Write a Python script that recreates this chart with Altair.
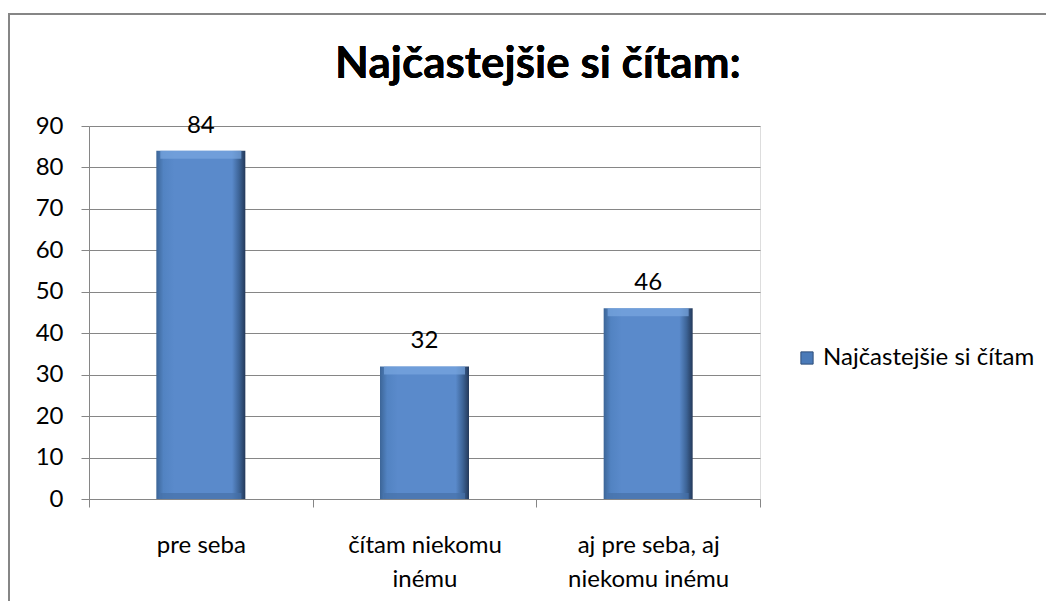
import altair as alt
import pandas as pd

categories = ["pre seba", "čítam niekomu\ninému", "aj pre seba, aj\nniekomu inému"]
values = [84, 32, 46]
series_name = "Najčastejšie si čítam"
title_text = "Najčastejšie si čítam:"
y_ticks = [0, 10, 20, 30, 40, 50, 60, 70, 80, 90]

df = pd.DataFrame({"kategoria": categories, "hodnota": values, "seria": [series_name] * len(values)})

FONT = "Lato"
GREY = "#868686"
W, H = 671, 373
FS = 24

x_enc = alt.X(
    "kategoria:N",
    sort=None,
    title=None,
    scale=alt.Scale(paddingInner=0, paddingOuter=0),
    axis=alt.Axis(
        labelExpr="split(datum.label, '\\n')",
        labelAngle=0,
        labelFontSize=FS,
        labelLineHeight=34,
        labelPadding=26,
        labelBaseline="top",
        tickBand="extent",
        tickSize=8,
        tickColor=GREY,
        domainColor=GREY,
        labelColor="#000000",
        labelFont=FONT,
        labelLimit=300,
        grid=False,
    ),
)
y_enc = alt.Y(
    "hodnota:Q",
    title=None,
    scale=alt.Scale(domain=[0, 90], nice=False),
    axis=alt.Axis(
        values=y_ticks,
        labelFontSize=FS,
        labelPadding=18,
        labelFont=FONT,
        labelColor="#000000",
        tickSize=8,
        tickColor=GREY,
        domainColor=GREY,
        gridColor=GREY,
        grid=True,
    ),
)

bar_fill = alt.Gradient(
    gradient="linear",
    x1=0, x2=1, y1=0, y2=0,
    stops=[
        alt.GradientStop(color="#3c6597", offset=0),
        alt.GradientStop(color="#5283c2", offset=0.08),
        alt.GradientStop(color="#5a8acb", offset=0.2),
        alt.GradientStop(color="#5a8acb", offset=0.85),
        alt.GradientStop(color="#3d6497", offset=0.93),
        alt.GradientStop(color="#24395a", offset=1),
    ],
)

bars = alt.Chart(df).mark_bar(size=89, fill=bar_fill).encode(x=x_enc, y=y_enc)

top_bevel = alt.Chart(df).mark_tick(
    orient="horizontal", size=81, thickness=8, color="#79a6e0", yOffset=4
).encode(x=alt.X("kategoria:N", sort=None), y=alt.Y("hodnota:Q"))

bottom_bevel = alt.Chart(df).mark_tick(
    orient="horizontal", size=81, thickness=6, color="#4671a8", yOffset=-3
).encode(x=alt.X("kategoria:N", sort=None), y=alt.datum(0))

labels = alt.Chart(df).mark_text(
    dy=-18, baseline="alphabetic", fontSize=FS, font=FONT, color="#000000"
).encode(x=alt.X("kategoria:N", sort=None), y=alt.Y("hodnota:Q"), text="hodnota:Q")

legend_layer = alt.Chart(df).mark_square(opacity=0, size=10).encode(
    x=alt.X("kategoria:N", sort=None),
    y=alt.Y("hodnota:Q"),
    color=alt.Color(
        "seria:N",
        scale=alt.Scale(range=["#4a7ab8"]),
        legend=alt.Legend(
            title=None,
            orient="none",
            legendX=706,
            legendY=220,
            symbolType="square",
            symbolSize=150,
            symbolOpacity=1,
            symbolStrokeColor="#2f4f7a",
            symbolStrokeWidth=1,
            labelFontSize=FS,
            labelFont=FONT,
            labelColor="#000000",
            labelLimit=400,
            padding=0,
            labelOffset=4,
        ),
    ),
)

title_mark = alt.Chart(df).mark_text(
    text=title_text, fontSize=44, fontWeight="bold", font=FONT, color="#000000",
    align="center", baseline="alphabetic",
).encode(x=alt.value(449), y=alt.value(-48))

border = alt.Chart(df).mark_rect(
    fill=None, stroke=GREY, strokeWidth=2
).encode(x=alt.value(-80), x2=alt.value(1200), y=alt.value(-112), y2=alt.value(900))

chart = alt.layer(
    border, bars, top_bevel, bottom_bevel, labels, legend_layer, title_mark
).properties(
    width=W,
    height=H,
    padding={"left": 81, "top": 118, "right": 286, "bottom": 102},
    autosize=alt.AutoSizeParams(type="none"),
).configure_view(stroke=None).configure(background="white")

chart.save("out.html", embed_options={"renderer": "svg", "actions": False})
